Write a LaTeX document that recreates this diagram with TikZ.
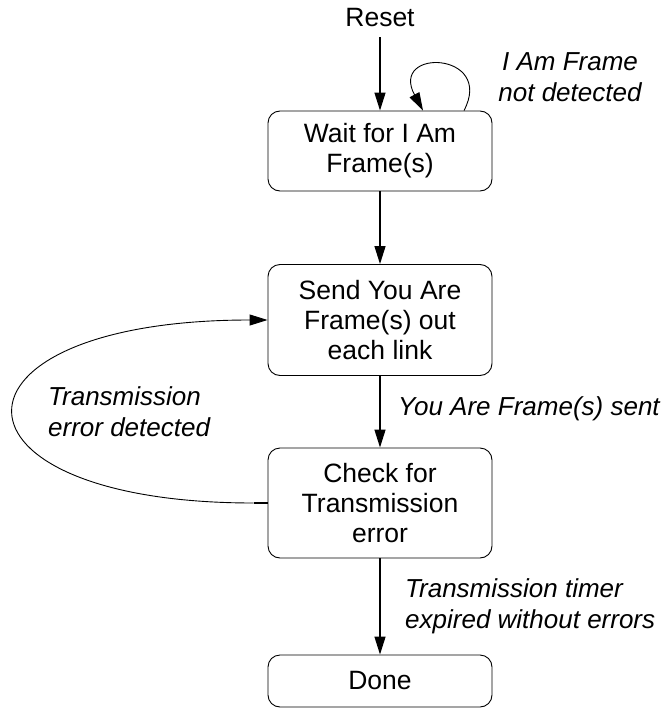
\documentclass[tikz,border=0pt]{standalone}
\usepackage{fontspec}
\setmainfont{Liberation Sans}
\usetikzlibrary{arrows.meta}
\begin{document}
\begin{tikzpicture}[x=1pt,y=-1pt,
  stage/.style={draw, line width=0.9pt, rounded corners=12pt, minimum width=224pt,
    align=center, inner sep=0pt, font=\fontsize{26.5pt}{30pt}\selectfont},
  cond/.style={font=\fontsize{26pt}{31pt}\selectfont\itshape, inner sep=0pt},
  tip/.style={-{Triangle[length=18pt,width=11pt]}},
  flow/.style={line width=1.3pt, tip},
  back/.style={line width=0.9pt, tip}]
\useasboundingbox (0,0) rectangle (667,709);

% states
\node[font=\fontsize{26.5pt}{30pt}\selectfont, inner xsep=0pt, inner ysep=10pt, anchor=base]
  (reset) at (380,27) {Reset};
\node[stage, minimum height=80pt]  (wait)  at (380,151) {Wait for I Am\\Frame(s)};
\node[stage, minimum height=111pt] (send)  at (380,320) {Send You Are\\Frame(s) out\\each link};
\node[stage, minimum height=110pt] (check) at (380,503) {Check for\\Transmission\\error};
\node[stage, minimum height=52pt]  (done)  at (380,681) {Done};

% transitions
\draw[flow] (reset.south) -- (wait.north);
\draw[flow] (wait.south) -- (send.north);
\draw[flow] (send.south) -- (check.north);
\draw[flow] (check.south) -- (done.north);

% wait loop
\coordinate (loopout) at ([xshift=84pt]wait.north);
\coordinate (loopin)  at ([xshift=43pt]wait.north);
\draw[back] (loopout) .. controls +(31,-59) and +(-34,-63) .. (loopin);

% retry loop
\coordinate (retry) at ([xshift=-14pt]check.west);
\draw[line width=1.3pt] (check.west) -- (retry);
\draw[back] (retry) .. controls +(-322,0) and +(-336,0) .. (send.west);

% conditions (base anchor sits on the last line)
\node[cond, align=center, anchor=base] (iam) at (570,101) {I Am Frame\\not detected};
\node[cond, align=left, anchor=base west] (terr) at (48,436) {Transmission\\error detected};
\node[cond, anchor=base west] (sent) at (398,415) {You Are Frame(s) sent};
\node[cond, align=left, anchor=base west] (timer) at (405,628) {Transmission timer\\expired without errors};
\end{tikzpicture}
\end{document}
